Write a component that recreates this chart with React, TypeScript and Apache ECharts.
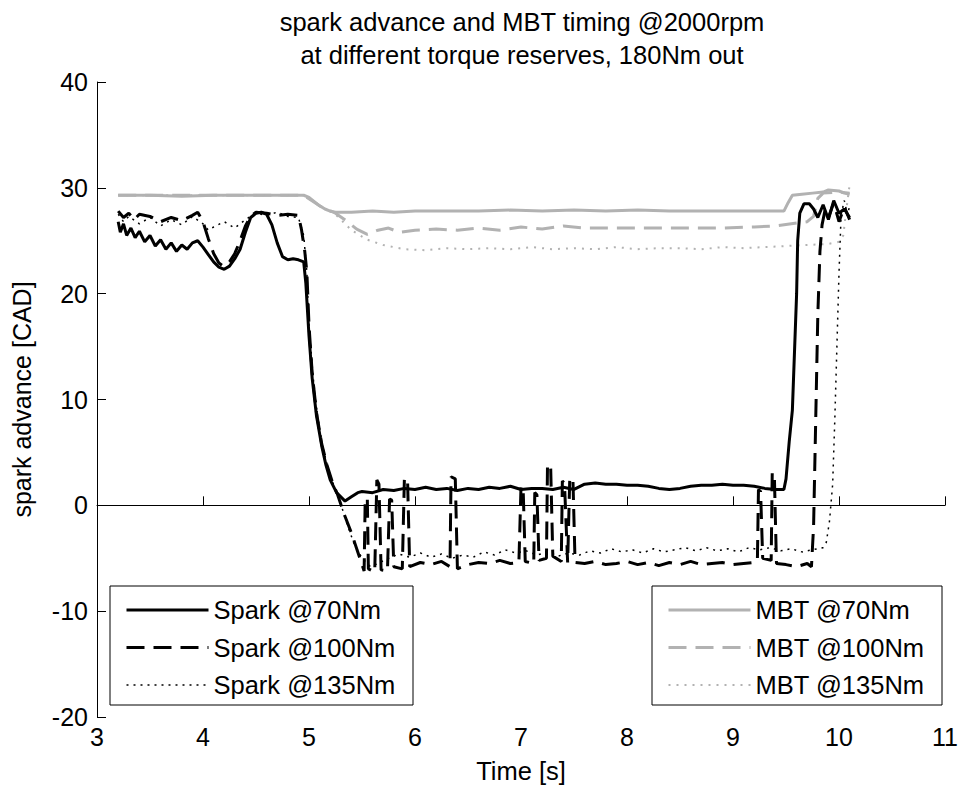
import React, { useEffect, useRef } from "react";
import * as echarts from "echarts";

const FONT = "'Liberation Sans', Arial, sans-serif";
const GRAY = "#b2b2b2";

const titleLines = [
  "spark advance and MBT timing @2000rpm",
  "at different torque reserves, 180Nm out",
];
const xAxisName = "Time [s]";
const yAxisName = "spark advance [CAD]";
const xTicks = { min: 3, max: 11, interval: 1 };
const yTicks = { min: -20, max: 40, interval: 10 };

const sparkNames = ["Spark @70Nm", "Spark @100Nm", "Spark @135Nm"];
const mbtNames = ["MBT @70Nm", "MBT @100Nm", "MBT @135Nm"];

// [time s, spark advance CAD]
const spark70: [number, number][] = [
  [3.2, 26.8], [3.22, 25.8], [3.25, 26.6], [3.28, 25.5], [3.32, 26.2], [3.36, 25.3], [3.4, 25.9],
  [3.45, 24.9], [3.5, 25.5], [3.55, 24.5], [3.6, 25.1], [3.65, 24.2], [3.7, 24.8], [3.75, 24.0],
  [3.8, 24.6], [3.85, 24.2], [3.9, 24.8], [3.95, 25.0], [4.0, 24.4], [4.05, 23.7], [4.1, 23.0],
  [4.15, 22.5], [4.2, 22.3], [4.25, 22.6], [4.3, 23.3], [4.35, 24.2], [4.4, 25.8], [4.45, 27.2],
  [4.5, 27.6], [4.55, 27.7], [4.6, 27.5], [4.65, 26.5], [4.7, 24.8], [4.75, 23.5], [4.8, 23.2],
  [4.85, 23.3], [4.9, 23.2], [4.95, 23.0], [4.97, 21.0], [5.0, 16.0], [5.03, 12.0], [5.07, 8.5],
  [5.12, 5.6], [5.16, 3.8], [5.2, 2.4], [5.26, 1.2], [5.34, 0.4], [5.4, 0.8], [5.46, 1.2],
  [5.5, 1.3], [5.6, 1.2], [5.7, 1.5], [5.8, 1.4], [5.9, 1.6], [6.0, 1.5], [6.1, 1.7], [6.2, 1.5],
  [6.3, 1.6], [6.4, 1.4], [6.5, 1.6], [6.6, 1.5], [6.7, 1.7], [6.8, 1.6], [6.9, 1.8], [7.0, 1.5],
  [7.1, 1.6], [7.2, 1.6], [7.3, 1.5], [7.4, 1.7], [7.5, 1.5], [7.6, 2.0], [7.7, 2.1], [7.8, 2.0],
  [7.9, 2.0], [8.0, 1.9], [8.1, 1.9], [8.2, 1.8], [8.3, 1.6], [8.4, 1.5], [8.5, 1.6], [8.6, 1.8],
  [8.7, 1.9], [8.8, 1.9], [8.9, 2.0], [9.0, 1.9], [9.1, 1.9], [9.2, 1.8], [9.3, 1.6], [9.4, 1.5],
  [9.48, 1.5], [9.5, 2.5], [9.53, 6.0], [9.56, 9.0], [9.6, 20.0], [9.61, 25.0], [9.63, 27.6],
  [9.67, 28.5], [9.72, 28.5], [9.76, 28.0], [9.8, 27.2], [9.85, 28.4], [9.9, 27.0], [9.95, 28.8],
  [10.0, 27.6], [10.05, 28.0], [10.1, 27.2],
];

const spark100: [number, number][] = [
  [3.2, 27.8], [3.25, 27.2], [3.3, 27.6], [3.35, 27.0], [3.4, 27.5], [3.5, 27.3], [3.6, 26.8],
  [3.7, 27.2], [3.8, 26.9], [3.9, 27.4], [3.95, 27.7], [4.0, 26.8], [4.05, 25.2], [4.1, 23.8],
  [4.15, 22.9], [4.19, 22.6], [4.25, 23.0], [4.3, 23.8], [4.35, 25.0], [4.4, 26.4], [4.45, 27.3],
  [4.5, 27.7], [4.6, 27.6], [4.7, 27.4], [4.8, 27.5], [4.9, 27.4], [4.93, 26.0], [4.96, 24.0],
  [4.98, 22.0], [5.0, 17.0], [5.03, 12.5], [5.07, 8.8], [5.12, 5.8], [5.17, 3.8], [5.22, 2.2],
  [5.27, 1.0], [5.33, -0.8], [5.4, -2.6], [5.46, -4.4], [5.5, -5.6], [5.52, -6.2], [5.53, 0.5],
  [5.55, 0.7], [5.56, -6.0], [5.62, -6.3], [5.64, 2.4], [5.66, 2.0], [5.68, -6.1], [5.74, -6.2],
  [5.76, 0.6], [5.78, 0.5], [5.8, -5.8], [5.88, -6.0], [5.9, 2.6], [5.93, 2.3], [5.95, -5.8],
  [6.05, -5.4], [6.15, -5.6], [6.25, -5.3], [6.33, -5.8], [6.34, 2.7], [6.38, 2.5], [6.4, -6.0],
  [6.5, -5.6], [6.6, -5.4], [6.7, -5.5], [6.8, -5.2], [6.9, -5.5], [6.98, -5.4], [7.0, 1.8],
  [7.02, 1.6], [7.04, -5.3], [7.12, -5.5], [7.13, 1.2], [7.15, 1.0], [7.17, -5.2], [7.24, -5.0],
  [7.25, 3.9], [7.28, 3.5], [7.3, -4.8], [7.38, -5.3], [7.39, 2.3], [7.41, 2.1], [7.44, -5.4],
  [7.46, 2.6], [7.49, 2.4], [7.51, -5.4], [7.6, -5.5], [7.7, -5.3], [7.8, -5.6], [7.9, -5.5],
  [8.0, -5.3], [8.1, -5.6], [8.2, -5.4], [8.3, -5.7], [8.4, -5.4], [8.5, -5.6], [8.6, -5.3],
  [8.7, -5.6], [8.8, -5.5], [8.9, -5.4], [9.0, -5.6], [9.1, -5.5], [9.2, -5.4], [9.23, -5.2],
  [9.24, 1.5], [9.26, 1.3], [9.28, -5.0], [9.36, -5.2], [9.37, 3.1], [9.39, 2.8], [9.41, -5.5],
  [9.5, -5.6], [9.6, -5.8], [9.7, -5.5], [9.74, -5.8], [9.76, -2.0], [9.78, 8.0], [9.8, 18.0],
  [9.82, 24.0], [9.84, 26.5], [9.87, 28.0], [9.9, 27.2], [9.95, 28.6], [10.0, 26.8], [10.05, 28.2],
  [10.1, 27.0],
];

const spark135: [number, number][] = [
  [3.2, 27.5], [3.25, 26.8], [3.3, 27.3], [3.4, 26.6], [3.5, 27.2], [3.6, 26.4], [3.7, 27.0],
  [3.8, 26.5], [3.9, 27.3], [4.0, 26.6], [4.05, 26.0], [4.1, 26.3], [4.2, 26.8], [4.3, 26.2],
  [4.4, 27.0], [4.5, 27.6], [4.6, 27.4], [4.7, 27.7], [4.8, 27.3], [4.9, 27.2], [4.95, 25.5],
  [4.98, 22.0], [5.0, 17.0], [5.04, 12.0], [5.08, 8.5], [5.13, 5.5], [5.18, 3.5], [5.23, 2.0],
  [5.28, 0.8], [5.35, -1.5], [5.42, -3.5], [5.5, -5.0], [5.58, -5.8], [5.65, -5.5], [5.75, -5.0],
  [5.85, -4.6], [5.95, -4.9], [6.05, -4.5], [6.15, -4.9], [6.25, -4.6], [6.35, -5.0], [6.45, -4.7],
  [6.55, -4.9], [6.65, -4.4], [6.75, -4.7], [6.85, -4.2], [6.95, -4.5], [7.05, -4.3], [7.15, -4.7],
  [7.25, -4.4], [7.35, -4.8], [7.45, -4.5], [7.55, -4.7], [7.65, -4.3], [7.75, -4.5], [7.85, -4.1],
  [7.95, -4.4], [8.05, -4.2], [8.15, -4.5], [8.25, -4.1], [8.35, -4.4], [8.45, -4.2], [8.55, -4.0],
  [8.65, -4.3], [8.75, -4.0], [8.85, -4.3], [8.95, -4.1], [9.05, -4.4], [9.15, -4.0], [9.25, -4.2],
  [9.35, -4.0], [9.45, -4.3], [9.55, -4.1], [9.65, -4.4], [9.75, -4.2], [9.85, -4.0], [9.88, -3.5],
  [9.91, -1.5], [9.94, 2.0], [9.96, 8.0], [9.98, 15.0], [10.0, 22.0], [10.02, 27.5], [10.05, 28.8],
  [10.08, 27.4], [10.1, 28.3],
];

const mbt70: [number, number][] = [
  [3.2, 29.3], [3.5, 29.3], [3.8, 29.2], [4.1, 29.3], [4.4, 29.3], [4.7, 29.3], [4.95, 29.3],
  [5.0, 29.1], [5.05, 28.7], [5.1, 28.3], [5.15, 28.0], [5.2, 27.8], [5.25, 27.7], [5.4, 27.7],
  [5.6, 27.8], [5.8, 27.7], [6.0, 27.8], [6.3, 27.8], [6.6, 27.8], [6.9, 27.9], [7.2, 27.8],
  [7.5, 27.9], [7.8, 27.8], [8.1, 27.9], [8.4, 27.8], [8.7, 27.8], [9.0, 27.8], [9.3, 27.8],
  [9.48, 27.8], [9.52, 28.6], [9.56, 29.3], [9.65, 29.4], [9.75, 29.5], [9.85, 29.6], [9.9, 29.8],
  [10.0, 29.7], [10.05, 29.5], [10.1, 29.4],
];

const mbt100: [number, number][] = [
  [3.2, 29.3], [4.95, 29.3], [5.1, 28.3], [5.25, 27.6], [5.35, 26.9], [5.45, 26.1], [5.55, 25.6],
  [5.65, 26.0], [5.75, 26.2], [5.85, 25.8], [6.0, 26.0], [6.2, 26.1], [6.4, 26.0], [6.6, 26.2],
  [6.8, 26.0], [7.0, 26.3], [7.2, 26.1], [7.4, 26.4], [7.6, 26.2], [7.8, 26.2], [8.0, 26.2],
  [8.3, 26.2], [8.6, 26.2], [8.9, 26.2], [9.2, 26.3], [9.4, 26.4], [9.55, 26.6], [9.7, 26.8],
  [9.76, 27.3], [9.8, 29.0], [9.85, 29.5], [10.0, 29.6], [10.1, 29.5],
];

const mbt135: [number, number][] = [
  [3.2, 29.3], [4.95, 29.3], [5.1, 28.3], [5.25, 27.5], [5.4, 26.0], [5.55, 25.1], [5.7, 24.6],
  [5.9, 24.2], [6.1, 24.1], [6.3, 24.3], [6.5, 24.2], [6.7, 24.3], [6.9, 24.2], [7.1, 24.4],
  [7.3, 24.2], [7.5, 24.3], [7.7, 24.2], [7.9, 24.4], [8.1, 24.2], [8.3, 24.3], [8.5, 24.3],
  [8.7, 24.2], [8.9, 24.4], [9.1, 24.3], [9.3, 24.4], [9.5, 24.5], [9.7, 24.6], [9.9, 24.7],
  [10.0, 24.9], [10.04, 25.5], [10.07, 28.0], [10.1, 30.3],
];

export default function App() {
  const ref = useRef<HTMLDivElement>(null);

  useEffect(() => {
    if (!ref.current) return;
    const chart = echarts.init(ref.current, undefined, { renderer: "svg" });

    const mk = (name: string, data: [number, number][], color: string, width: number, type: any, z: number) => ({
      name,
      type: "line",
      data,
      showSymbol: false,
      symbol: "none",
      z,
      lineStyle: { color, width, type },
      itemStyle: { color },
      emphasis: { disabled: true },
    });

    const legendCommon = {
      orient: "vertical",
      top: 597,
      padding: 0,
      itemWidth: 82,
      itemHeight: 14,
      itemGap: 11.5,
      selectedMode: false,
      textStyle: { fontSize: 25.5, lineHeight: 26, color: "#000", fontFamily: FONT },
      itemStyle: { opacity: 0 },
      lineStyle: { width: "inherit" },
    };

    chart.setOption({
      animation: false,
      backgroundColor: "#fff",
      title: {
        text: titleLines.join("\n"),
        left: 522,
        top: 5,
        padding: 0,
        textAlign: "center",
        textStyle: { fontSize: 25.5, lineHeight: 33, fontWeight: "normal", color: "#000", fontFamily: FONT },
      },
      grid: { left: 97, right: 10, top: 82, bottom: 73, containLabel: false },
      xAxis: {
        type: "value",
        min: xTicks.min,
        max: xTicks.max,
        interval: xTicks.interval,
        name: xAxisName,
        nameLocation: "middle",
        nameGap: 41,
        nameTextStyle: { fontSize: 25.5, color: "#000", fontFamily: FONT },
        axisLine: { show: true, lineStyle: { color: "#000", width: 1 } },
        axisTick: { show: true, inside: true, length: 9, lineStyle: { color: "#000" } },
        axisLabel: { fontSize: 25, color: "#000", fontFamily: FONT, margin: 7 },
        splitLine: { show: false },
      },
      yAxis: {
        type: "value",
        min: yTicks.min,
        max: yTicks.max,
        interval: yTicks.interval,
        name: yAxisName,
        nameLocation: "middle",
        nameGap: 63,
        nameTextStyle: { fontSize: 25, color: "#000", fontFamily: FONT },
        axisLine: { show: true, lineStyle: { color: "#000", width: 1 } },
        axisTick: { show: true, inside: true, length: 9, lineStyle: { color: "#000" } },
        axisLabel: { fontSize: 25, color: "#000", fontFamily: FONT, margin: 9 },
        splitLine: { show: false },
      },
      legend: [
        { ...legendCommon, left: 125, data: sparkNames },
        { ...legendCommon, left: 667, data: mbtNames },
      ],
      graphic: [
        { type: "rect", z: 1, shape: { x: 110, y: 586, width: 303, height: 119 }, style: { fill: "#fff", stroke: "#000", lineWidth: 1 } },
        { type: "rect", z: 1, shape: { x: 652, y: 586, width: 290, height: 119 }, style: { fill: "#fff", stroke: "#000", lineWidth: 1 } },
      ],
      series: [
        mk(mbtNames[0], mbt70, GRAY, 3, "solid", 2),
        mk(mbtNames[1], mbt100, GRAY, 3, [18, 9], 2),
        mk(mbtNames[2], mbt135, GRAY, 2, [2, 6], 2),
        mk(sparkNames[0], spark70, "#000", 3, "solid", 3),
        mk(sparkNames[1], spark100, "#000", 3, [18, 9], 3),
        mk(sparkNames[2], spark135, "#000", 1.5, [2, 5], 3),
      ],
    });

    return () => chart.dispose();
  }, []);

  return (
    <div
      ref={ref}
      style={{ position: "fixed", left: 0, top: 0, width: 961, height: 790, background: "#fff" }}
    />
  );
}
